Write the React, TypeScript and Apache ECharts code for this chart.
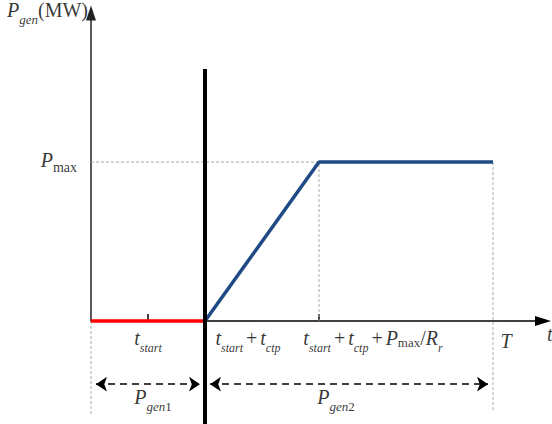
import React, { useEffect, useRef } from 'react';
import * as echarts from 'echarts';

const SERIF = 'Liberation Serif';

// ---- values (schematic units) ----
const xRange = [0, 9.04];
const yRange = [0, 10];
const tStart = 2.28;
const tRampEnd = 4.56;
const tEnd = 8.04;
const pMax = 5.16;
const tickValues = [1.14, 4.56];
const switchTop = 8.18;
const switchBottom = -3.5;
const spanLevel = -2.05;
const arrowInset = 0.1;

const redSegment = [[0, 0], [tStart, 0]];
const blueSegment = [[tStart, 0], [tRampEnd, pMax], [tEnd, pMax]];
const switchLine = [[tStart, switchTop], [tStart, switchBottom]];
const guideLines = [
  [[0, pMax], [tRampEnd, pMax], [tRampEnd, 0]],
  [[tEnd, pMax], [tEnd, -2.95]],
  [[0, 0], [0, -3.05]],
];
const spans = [[0, tStart], [tStart, tEnd]];

const labelTexts = [
  '{m|P}{g|gen}{o|(MW)}',
  '{m|P}{pm|max}',
  '{m|t}{s|start}',
  '{m|t}{s|start}{op|+}{m|t}{s|ctp}',
  '{m|t}{s|start}{op|+}{m|t}{s|ctp}{op|+}{m|P}{x|max}{o|/}{m|R}{s|r}',
  '{m|T}',
  '{m|t}',
  '{m|P}{g|gen}{u|1}',
  '{m|P}{g|gen}{u|2}',
];
const labelAnchors = [
  [-1.68, 10.04],
  [-0.28, 5.17],
  [1.14, -0.63],
  [3.14, -0.63],
  [5.64, -0.63],
  [8.3, -0.71],
  [9.12, -0.49],
  [1.24, -2.54],
  [4.9, -2.54],
];
const labelAligns = ['left', 'right', 'center', 'center', 'center', 'center', 'left', 'center', 'center'];

const rich = {
  m: { fontFamily: SERIF, fontStyle: 'italic', fontSize: 20, lineHeight: 24, verticalAlign: 'top', color: '#000' },
  o: { fontFamily: SERIF, fontStyle: 'normal', fontSize: 20, lineHeight: 24, verticalAlign: 'top', color: '#000' },
  op: { fontFamily: SERIF, fontStyle: 'normal', fontSize: 20, lineHeight: 24, verticalAlign: 'top', color: '#000', padding: [0, 3, 0, 3] },
  s: { fontFamily: SERIF, fontStyle: 'italic', fontSize: 12, lineHeight: 14, padding: [14, 0, 0, 0], verticalAlign: 'top', color: '#000' },
  g: { fontFamily: SERIF, fontStyle: 'italic', fontSize: 13, lineHeight: 14, padding: [13, 0, 0, 0], verticalAlign: 'top', color: '#000' },
  u: { fontFamily: SERIF, fontStyle: 'normal', fontSize: 13, lineHeight: 14, padding: [13, 0, 0, 0], verticalAlign: 'top', color: '#000' },
  pm: { fontFamily: SERIF, fontStyle: 'normal', fontSize: 14, lineHeight: 14, padding: [11, 0, 0, 0], verticalAlign: 'top', color: '#000' },
  x: { fontFamily: SERIF, fontStyle: 'normal', fontSize: 13, lineHeight: 14, padding: [8, 0, 0, 0], verticalAlign: 'top', color: '#000' },
};

export default function App() {
  const ref = useRef<HTMLDivElement>(null);
  useEffect(() => {
    if (!ref.current) return;
    const chart = echarts.init(ref.current, null, { renderer: 'svg' });
    const option: any = {
      animation: false,
      backgroundColor: '#fff',
      textStyle: { fontFamily: SERIF },
      grid: { left: 91, right: 9, top: 13, bottom: 103, containLabel: false },
      xAxis: {
        type: 'value',
        min: xRange[0],
        max: xRange[1],
        axisLine: { show: true, onZero: true, symbol: ['none', 'triangle'], symbolSize: [10, 16], lineStyle: { color: '#000', width: 1.5 } },
        axisTick: { show: true, customValues: tickValues, inside: true, length: 7, lineStyle: { color: '#000', width: 1.5 } },
        axisLabel: { show: false },
        splitLine: { show: false },
      },
      yAxis: {
        type: 'value',
        min: yRange[0],
        max: yRange[1],
        axisLine: { show: true, symbol: ['none', 'triangle'], symbolSize: [10, 15], lineStyle: { color: '#222', width: 1.5 } },
        axisTick: { show: false },
        axisLabel: { show: false },
        splitLine: { show: false },
      },
      series: [
        {
          type: 'lines',
          coordinateSystem: 'cartesian2d',
          polyline: true,
          clip: false,
          silent: true,
          z: 1,
          lineStyle: { color: '#aaa', width: 1, type: [3, 2], opacity: 1 },
          data: guideLines.map((c) => ({ coords: c })),
        },
        {
          type: 'line',
          data: blueSegment,
          clip: false,
          showSymbol: false,
          symbol: 'none',
          z: 3,
          lineStyle: { color: '#1F4A85', width: 3.5 },
        },
        {
          type: 'line',
          data: redSegment,
          clip: false,
          symbol: 'none',
          z: 3,
          lineStyle: { color: '#FF0000', width: 3.5 },
        },
        {
          type: 'lines',
          coordinateSystem: 'cartesian2d',
          clip: false,
          silent: true,
          z: 4,
          symbol: ['arrow', 'arrow'],
          symbolSize: 11,
          lineStyle: { color: '#000', width: 1.5, type: [7, 5], opacity: 1 },
          data: spans.map(([a, b]) => ({ coords: [[a + arrowInset, spanLevel], [b - arrowInset, spanLevel]] })),
        },
        {
          type: 'line',
          data: switchLine,
          clip: false,
          symbol: 'none',
          z: 5,
          lineStyle: { color: '#000', width: 4 },
        },
        {
          type: 'scatter',
          clip: false,
          silent: true,
          symbolSize: 0,
          z: 6,
          label: { show: true, position: 'inside', color: '#000', fontFamily: SERIF, textBorderWidth: 0, rich },
          data: labelAnchors.map((p, i) => ({
            value: p,
            label: { formatter: labelTexts[i], align: labelAligns[i] },
          })),
        },
      ],
    };
    chart.setOption(option);
    return () => chart.dispose();
  }, []);
  return <div ref={ref} style={{ position: 'absolute', left: 0, top: 0, width: 552, height: 424 }} />;
}
